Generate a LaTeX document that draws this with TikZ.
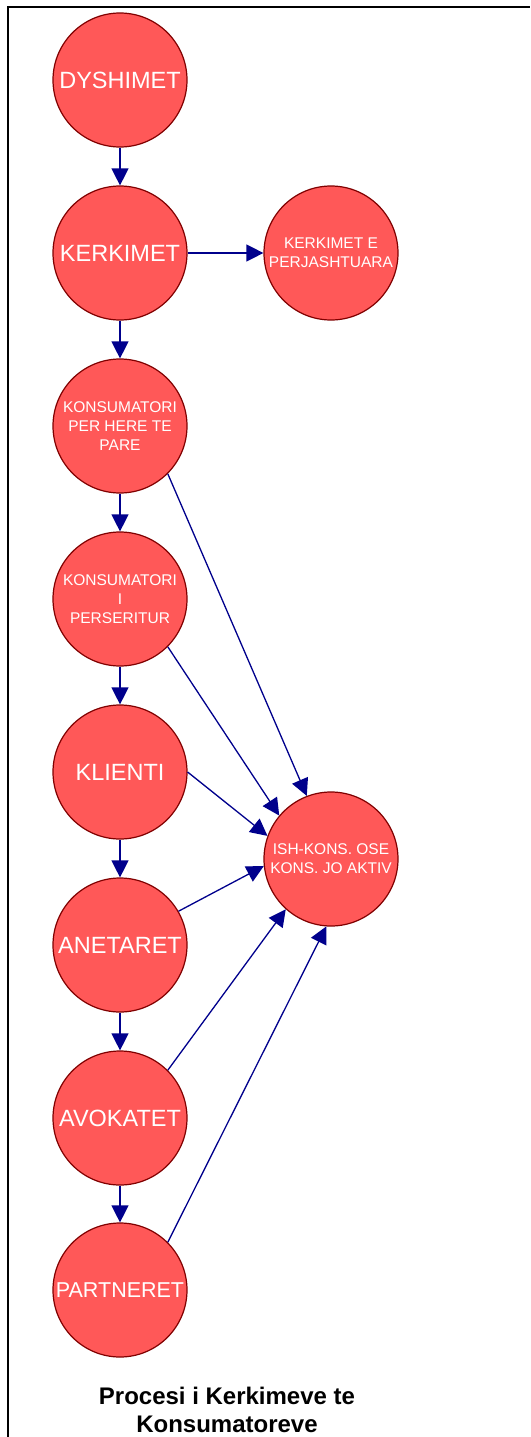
\documentclass[tikz,border=0pt]{standalone}
\usepackage{fontspec}
\setmainfont{Liberation Sans}
\usetikzlibrary{arrows.meta}
\definecolor{nodefill}{RGB}{255,88,88}
\definecolor{nodeline}{RGB}{128,0,0}
\definecolor{linkblue}{RGB}{0,0,140}
\begin{document}
\begin{tikzpicture}[x=1pt,y=-1pt,
  stage/.style={circle, draw=nodeline, fill=nodefill, line width=1.2pt,
    minimum size=134pt, inner sep=0pt, text=white, align=center},
  bigtext/.style={font=\fontsize{23.5}{28}\selectfont},
  smalltext/.style={font=\fontsize{15.5}{19}\selectfont},
  link/.style={draw=linkblue, line width=1.3pt,
    -{Triangle[length=17pt,width=17pt]}}]
\useasboundingbox (0,0) rectangle (530,1437);
% frame
\draw[line width=2pt] (7.5,1437) -- (7.5,7.5) -- (530,7.5);

% stages
\node[stage,bigtext] (dys) at (120,80) {DYSHIMET};
\node[stage,bigtext] (ker) at (120,253) {KERKIMET};
\node[stage,smalltext] (kep) at (331,253) {KERKIMET E\\PERJASHTUARA};
\node[stage,smalltext] (kph) at (120,426) {KONSUMATORI\\PER HERE TE\\PARE};
\node[stage,smalltext] (kip) at (120,599) {KONSUMATORI\\I\\PERSERITUR};
\node[stage,bigtext] (kli) at (120,772) {KLIENTI};
\node[stage,bigtext] (ane) at (120,945) {ANETARET};
\node[stage,bigtext] (avo) at (120,1118) {AVOKATET};
\node[stage,font=\fontsize{21.5}{26}\selectfont] (par) at (120,1290) {PARTNERET};
\node[stage,smalltext] (ish) at (331,859) {ISH-KONS. OSE\\KONS. JO AKTIV};

% main chain
\draw[link] (dys) -- (ker);
\draw[link] (ker) -- (kep);
\draw[link] (ker) -- (kph);
\draw[link] (kph) -- (kip);
\draw[link] (kip) -- (kli);
\draw[link] (kli) -- (ane);
\draw[link] (ane) -- (avo);
\draw[link] (avo) -- (par);

% links to former / inactive consumers
\draw[link] (kph.-45) -- (ish.111);
\draw[link] (kip.-45) -- (ish.140);
\draw[link] (kli.0) -- (ish.160);
\draw[link] (ane.30) -- (ish.186);
\draw[link] (avo.45) -- (ish.228);
\draw[link] (par.45) -- (ish.266);

% caption
\node[font=\bfseries\fontsize{24}{28}\selectfont, align=center] (cap) at (227,1410)
  {Procesi i Kerkimeve te\\Konsumatoreve};
\end{tikzpicture}
\end{document}
